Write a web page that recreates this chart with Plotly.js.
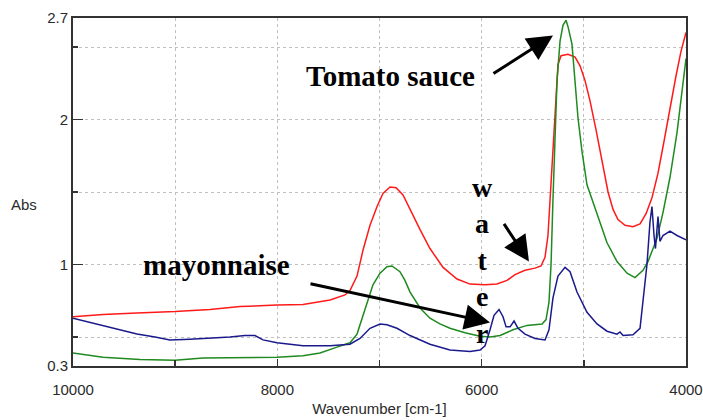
<!DOCTYPE html>
<html>
<head>
<meta charset="utf-8">
<script src="https://cdn.plot.ly/plotly-3.0.1.min.js"></script>
<style>html,body{margin:0;padding:0;background:#fff;}#chart{width:703px;height:420px;}</style>
</head>
<body>
<div id="chart"></div>
<script>
// Wavenumber [cm-1] and absorbance
const wnRed = [10000,9706,9374,9002,8659,8365,8003,7749,7484,7338,7289,7220,7161,7093,7024,6966,6897,6838,6770,6701,6603,6506,6378,6241,6114,5967,5850,5752,5674,5576,5478,5419,5380,5351,5331,5312,5292,5272,5253,5223,5155,5086,5037,4989,4940,4881,4822,4763,4714,4666,4597,4519,4450,4391,4333,4274,4215,4157,4098,4049,4000];
const absRed = [0.64,0.655,0.665,0.675,0.69,0.71,0.72,0.725,0.755,0.79,0.82,0.92,1.10,1.27,1.40,1.49,1.535,1.53,1.48,1.38,1.24,1.11,0.98,0.90,0.865,0.86,0.865,0.89,0.93,0.96,0.975,0.99,1.05,1.2,1.45,1.6,1.85,2.15,2.38,2.44,2.45,2.43,2.37,2.27,2.13,1.93,1.72,1.50,1.38,1.31,1.27,1.26,1.28,1.35,1.46,1.63,1.85,2.08,2.30,2.47,2.6];

const wnGreen = [10000,9883,9706,9344,9002,8728,8365,8003,7749,7582,7416,7289,7220,7161,7112,7064,6995,6927,6878,6800,6751,6701,6603,6506,6408,6310,6163,6016,5918,5820,5693,5556,5409,5370,5341,5321,5302,5282,5263,5233,5204,5174,5155,5116,5086,5057,5018,4969,4871,4773,4675,4577,4499,4421,4372,4284,4225,4176,4157,4088,4039,4000];
const absGreen = [0.39,0.38,0.36,0.345,0.34,0.355,0.36,0.36,0.37,0.39,0.43,0.46,0.52,0.65,0.76,0.86,0.94,0.985,0.99,0.95,0.89,0.81,0.70,0.63,0.59,0.56,0.53,0.505,0.50,0.51,0.55,0.58,0.59,0.62,0.74,1.0,1.45,1.80,2.26,2.54,2.65,2.685,2.64,2.52,2.26,2.01,1.78,1.55,1.35,1.15,1.02,0.94,0.91,0.96,1.02,1.18,1.36,1.52,1.60,1.91,2.2,2.42];

const wnBlue = [10000,9883,9706,9540,9374,9197,9051,8855,8659,8463,8317,8219,8140,8003,7749,7484,7289,7191,7093,6995,6927,6829,6701,6506,6310,6114,6016,5967,5918,5879,5830,5791,5761,5722,5683,5644,5576,5478,5380,5341,5302,5253,5184,5135,5067,4969,4871,4773,4675,4646,4616,4519,4450,4421,4382,4353,4333,4313,4299,4274,4255,4225,4157,4088,4000];
const absBlue = [0.63,0.61,0.58,0.55,0.52,0.50,0.48,0.485,0.49,0.50,0.51,0.51,0.48,0.46,0.44,0.44,0.45,0.49,0.56,0.59,0.585,0.56,0.51,0.45,0.41,0.40,0.41,0.44,0.55,0.65,0.69,0.64,0.57,0.57,0.61,0.56,0.52,0.49,0.48,0.55,0.77,0.92,0.98,0.95,0.81,0.67,0.59,0.54,0.52,0.535,0.51,0.515,0.56,0.77,1.0,1.29,1.40,1.2,1.11,1.33,1.16,1.20,1.23,1.20,1.17];

const xTickVals = [10000, 8000, 6000, 4000];
const xTickText = ['10000', '8000', '6000', '4000'];
const xMinorVals = [9000, 7000, 5000];
const yTickVals = [0.3, 1, 2, 2.7];
const yTickText = ['0.3', '1', '2', '2.7'];
const yMinorVals = [0.5, 1.5, 2.5];

const traces = [
  {x: wnRed, y: absRed, name: 'Tomato sauce', type: 'scatter', mode: 'lines', line: {color: '#ff1a1a', width: 1.5}},
  {x: wnGreen, y: absGreen, name: 'Water', type: 'scatter', mode: 'lines', line: {color: '#1f8a1f', width: 1.5}},
  {x: wnBlue, y: absBlue, name: 'Mayonnaise', type: 'scatter', mode: 'lines', line: {color: '#1a1a8c', width: 1.5}}
];

const annFont = {family: 'Liberation Serif, Times New Roman, serif', size: 29, color: '#000'};
const gridStyle = {showgrid: true, gridcolor: '#c0c0c0', griddash: 'dot', gridwidth: 1};
const layout = {
  width: 703, height: 420,
  margin: {l: 73, r: 17, t: 18, b: 54},
  paper_bgcolor: '#fff', plot_bgcolor: '#fff',
  showlegend: false,
  font: {family: 'Liberation Sans, Arial, sans-serif', size: 15, color: '#2a2a2a'},
  xaxis: Object.assign({
    range: [10000, 4000], autorange: false,
    tickmode: 'array', tickvals: xTickVals, ticktext: xTickText,
    ticks: 'inside', ticklen: 7, tickwidth: 1.5, tickcolor: '#333',
    ticklabelstandoff: 9,
    minor: Object.assign({tickmode: 'array', tickvals: xMinorVals, ticks: 'inside', ticklen: 6, tickcolor: '#333'}, gridStyle),
    showline: true, linecolor: '#333', linewidth: 2, mirror: true,
    zeroline: false,
    title: {text: 'Wavenumber [cm-1]', font: {size: 15, color: '#2a2a2a'}, standoff: 6}
  }, gridStyle),
  yaxis: Object.assign({
    range: [0.3, 2.7], autorange: false,
    tickmode: 'array', tickvals: yTickVals, ticktext: yTickText,
    ticks: 'inside', ticklen: 10, tickwidth: 1.5, tickcolor: '#333',
    minor: Object.assign({tickmode: 'array', tickvals: yMinorVals, ticks: 'inside', ticklen: 5, tickcolor: '#333'}, gridStyle),
    showline: true, linecolor: '#333', linewidth: 2, mirror: true,
    zeroline: false
  }, gridStyle),
  annotations: [
    {xref: 'paper', yref: 'paper', x: -0.08, y: 0.465, text: 'Abs', showarrow: false, xanchor: 'center', yanchor: 'middle', font: {size: 15, color: '#2a2a2a'}},
    {x: 6000, y: 2.3, xref: 'x', yref: 'y', text: '<b>Tomato sauce</b>', showarrow: false, xanchor: 'right', yanchor: 'middle', xshift: -5, font: annFont},
    {x: 8600, y: 1.0, xref: 'x', yref: 'y', text: '<b>mayonnaise</b>', showarrow: false, xanchor: 'center', yanchor: 'middle', font: annFont},
    {x: 5987, y: 1.03, xref: 'x', yref: 'y', text: '<b>w<br>a<br>t<br>e<br>r</b>', showarrow: false, xanchor: 'center', yanchor: 'middle', font: Object.assign({}, annFont, {size: 28})},
    {x: 5302, y: 2.58, ax: 5899, ay: 2.31, xref: 'x', yref: 'y', axref: 'x', ayref: 'y', text: '', showarrow: true, arrowhead: 2, arrowsize: 1.7, arrowwidth: 3, arrowcolor: '#000', standoff: 0},
    {x: 5537, y: 1.02, ax: 5791, ay: 1.29, xref: 'x', yref: 'y', axref: 'x', ayref: 'y', text: '', showarrow: true, arrowhead: 2, arrowsize: 1.7, arrowwidth: 3, arrowcolor: '#000', standoff: 0},
    {x: 5918, y: 0.60, ax: 7690, ay: 0.87, xref: 'x', yref: 'y', axref: 'x', ayref: 'y', text: '', showarrow: true, arrowhead: 2, arrowsize: 1.7, arrowwidth: 3, arrowcolor: '#000', standoff: 0}
  ]
};

Plotly.newPlot('chart', traces, layout, {staticPlot: true, displayModeBar: false});
</script>
</body>
</html>
